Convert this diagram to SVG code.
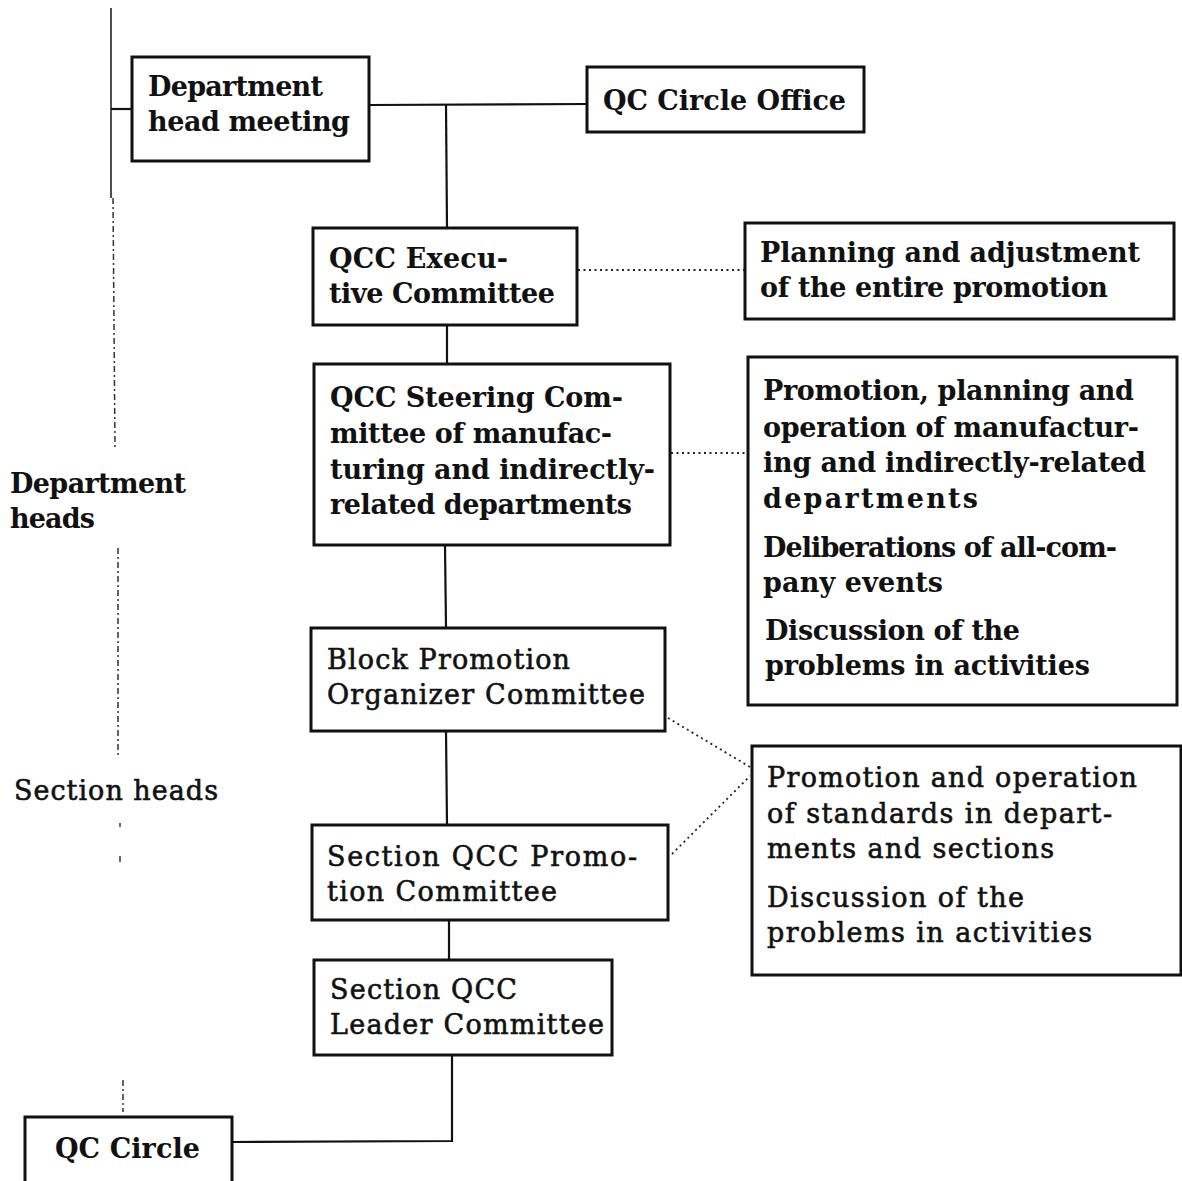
<svg xmlns="http://www.w3.org/2000/svg" width="1182" height="1181" viewBox="0 0 1182 1181">
  <style>
    .box { fill: #ffffff; stroke: #111111; stroke-width: 3; }
    .link { fill: none; stroke: #111111; stroke-width: 2.2; }
    .dot { fill: none; stroke: #222222; stroke-width: 1.8; stroke-dasharray: 2 3.5; }
    .axis { fill: none; stroke: #222222; stroke-width: 1.6; }
    .axis-dash { fill: none; stroke: #333333; stroke-width: 1.5; stroke-dasharray: 6 3 2 3; }
    text { font-family: "DejaVu Serif", "Liberation Serif", serif; font-size: 27px; fill: #111111; }
    .b { font-weight: bold; }
    .m { font-weight: normal; stroke: #111111; stroke-width: 0.6; }
  </style>

  <!-- level axis on the left -->
  <g id="level-axis">
    <line class="axis" x1="111" y1="8" x2="111" y2="198"/>
    <line class="axis-dash" x1="113" y1="198" x2="115" y2="450"/>
    <line class="axis-dash" x1="118" y1="548" x2="118" y2="755"/>
    <line class="axis-dash" x1="120" y1="823" x2="120" y2="827"/>
    <line class="axis-dash" x1="120" y1="856" x2="120" y2="863"/>
    <line class="axis-dash" x1="123" y1="1080" x2="123" y2="1112"/>
    <text class="b" x="10" y="493" textLength="176" lengthAdjust="spacing">Department</text>
    <text class="b" x="10" y="528" textLength="85" lengthAdjust="spacing">heads</text>
    <text class="m" x="14" y="800" textLength="204" lengthAdjust="spacing">Section heads</text>
  </g>

  <!-- connectors -->
  <g id="connectors">
    <line class="link" x1="111" y1="109" x2="132" y2="109"/>
    <line class="link" x1="369" y1="105" x2="587" y2="104"/>
    <line class="link" x1="446" y1="105" x2="447" y2="228"/>
    <line class="link" x1="447" y1="325" x2="447" y2="364"/>
    <line class="link" x1="445" y1="545" x2="446" y2="628"/>
    <line class="link" x1="446" y1="731" x2="447" y2="825"/>
    <line class="link" x1="449" y1="920" x2="449" y2="960"/>
    <polyline class="link" points="452,1055 452,1141 232,1142"/>
    <line class="dot" x1="578" y1="270" x2="745" y2="270"/>
    <line class="dot" x1="671" y1="453" x2="748" y2="453"/>
    <line class="dot" x1="668" y1="718" x2="750" y2="767"/>
    <line class="dot" x1="672" y1="854" x2="750" y2="776"/>
  </g>

  <g id="dept-head-meeting">
    <rect class="box" x="132" y="57" width="237" height="104"/>
    <text class="b" x="148" y="96" textLength="175" lengthAdjust="spacing">Department</text>
    <text class="b" x="148" y="131" textLength="202" lengthAdjust="spacing">head meeting</text>
  </g>

  <g id="qc-circle-office">
    <rect class="box" x="587" y="67" width="277" height="65"/>
    <text class="b" x="603" y="110" textLength="243" lengthAdjust="spacing">QC Circle Office</text>
  </g>

  <g id="qcc-executive">
    <rect class="box" x="313" y="228" width="264" height="97"/>
    <text class="b" x="329" y="268" textLength="179" lengthAdjust="spacing">QCC Execu-</text>
    <text class="b" x="329" y="303" textLength="226" lengthAdjust="spacing">tive Committee</text>
  </g>

  <g id="planning-note">
    <rect class="box" x="745" y="223" width="429" height="96"/>
    <text class="b" x="760" y="262" textLength="380" lengthAdjust="spacing">Planning and adjustment</text>
    <text class="b" x="760" y="297" textLength="348" lengthAdjust="spacing">of the entire promotion</text>
  </g>

  <g id="qcc-steering">
    <rect class="box" x="314" y="364" width="356" height="181"/>
    <text class="b" x="330" y="407" textLength="293" lengthAdjust="spacing">QCC Steering Com-</text>
    <text class="b" x="330" y="443" textLength="282" lengthAdjust="spacing">mittee of manufac-</text>
    <text class="b" x="330" y="479" textLength="325" lengthAdjust="spacing">turing and indirectly-</text>
    <text class="b" x="330" y="514" textLength="302" lengthAdjust="spacing">related departments</text>
  </g>

  <g id="steering-note">
    <rect class="box" x="748" y="357" width="429" height="348"/>
    <text class="b" x="763" y="400" textLength="371" lengthAdjust="spacing">Promotion, planning and</text>
    <text class="b" x="763" y="437" textLength="376" lengthAdjust="spacing">operation of manufactur-</text>
    <text class="b" x="763" y="472" textLength="383" lengthAdjust="spacing">ing and indirectly-related</text>
    <text class="b" x="763" y="508" textLength="215" lengthAdjust="spacing">departments</text>
    <text class="b" x="763" y="557" textLength="354" lengthAdjust="spacing">Deliberations of all-com-</text>
    <text class="b" x="763" y="592" textLength="180" lengthAdjust="spacing">pany events</text>
    <text class="b" x="765" y="640" textLength="255" lengthAdjust="spacing">Discussion of the</text>
    <text class="b" x="765" y="675" textLength="325" lengthAdjust="spacing">problems in activities</text>
  </g>

  <g id="block-promotion">
    <rect class="box" x="311" y="628" width="354" height="103"/>
    <text class="m" x="327" y="669" textLength="243" lengthAdjust="spacing">Block Promotion</text>
    <text class="m" x="327" y="704" textLength="318" lengthAdjust="spacing">Organizer Committee</text>
  </g>

  <g id="section-promotion">
    <rect class="box" x="312" y="825" width="356" height="95"/>
    <text class="m" x="327" y="866" textLength="310" lengthAdjust="spacing">Section QCC Promo-</text>
    <text class="m" x="327" y="901" textLength="230" lengthAdjust="spacing">tion Committee</text>
  </g>

  <g id="section-note">
    <rect class="box" x="752" y="746" width="429" height="229"/>
    <text class="m" x="767" y="787" textLength="370" lengthAdjust="spacing">Promotion and operation</text>
    <text class="m" x="767" y="823" textLength="345" lengthAdjust="spacing">of standards in depart-</text>
    <text class="m" x="767" y="858" textLength="287" lengthAdjust="spacing">ments and sections</text>
    <text class="m" x="767" y="907" textLength="257" lengthAdjust="spacing">Discussion of the</text>
    <text class="m" x="767" y="942" textLength="325" lengthAdjust="spacing">problems in activities</text>
  </g>

  <g id="section-leader">
    <rect class="box" x="314" y="960" width="298" height="95"/>
    <text class="m" x="330" y="999" textLength="187" lengthAdjust="spacing">Section QCC</text>
    <text class="m" x="330" y="1034" textLength="274" lengthAdjust="spacing">Leader Committee</text>
  </g>

  <g id="qc-circle">
    <rect class="box" x="25" y="1117" width="207" height="70"/>
    <text class="b" x="55" y="1158" textLength="145" lengthAdjust="spacing">QC Circle</text>
  </g>
</svg>
